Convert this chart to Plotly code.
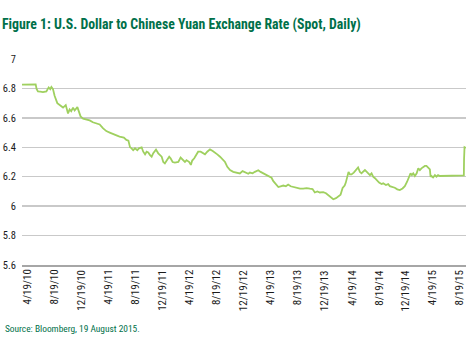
import plotly.graph_objects as go

dates = [
    "2010-04-19", "2010-05-10", "2010-06-01", "2010-06-18", "2010-06-22", "2010-06-28",
    "2010-07-08", "2010-07-20", "2010-08-04", "2010-08-14", "2010-08-21", "2010-08-26",
    "2010-09-02", "2010-09-09", "2010-09-21", "2010-10-01", "2010-10-16", "2010-10-28",
    "2010-11-07", "2010-11-14", "2010-11-21", "2010-11-29", "2010-12-06", "2010-12-18",
    "2010-12-25", "2011-01-01", "2011-01-12", "2011-01-26", "2011-02-10", "2011-02-24",
    "2011-03-11", "2011-03-26", "2011-04-09", "2011-04-24", "2011-05-09", "2011-05-23",
    "2011-06-07", "2011-06-21", "2011-07-10", "2011-07-21", "2011-07-30", "2011-08-06",
    "2011-08-13", "2011-08-20", "2011-08-28", "2011-09-07", "2011-09-14", "2011-09-26",
    "2011-10-03", "2011-10-11", "2011-10-18", "2011-10-25", "2011-11-02", "2011-11-09",
    "2011-11-16", "2011-11-28", "2011-12-08", "2011-12-15", "2011-12-23", "2011-12-30",
    "2012-01-06", "2012-01-14", "2012-01-25", "2012-01-31", "2012-02-09", "2012-02-19",
    "2012-03-05", "2012-03-15", "2012-03-24", "2012-04-03", "2012-04-10", "2012-04-22",
    "2012-04-29", "2012-05-05", "2012-05-14", "2012-05-24", "2012-05-31", "2012-06-11",
    "2012-06-20", "2012-06-30", "2012-07-10", "2012-07-22", "2012-08-03", "2012-08-13",
    "2012-08-23", "2012-09-04", "2012-09-15", "2012-09-26", "2012-10-06", "2012-10-18",
    "2012-11-01", "2012-11-16", "2012-11-30", "2012-12-12", "2012-12-22", "2013-01-06",
    "2013-01-13", "2013-01-25", "2013-02-04", "2013-02-19", "2013-03-01", "2013-03-13",
    "2013-03-27", "2013-04-08", "2013-04-18", "2013-04-26", "2013-05-07", "2013-05-18",
    "2013-05-28", "2013-06-09", "2013-06-20", "2013-06-30", "2013-07-11", "2013-07-22",
    "2013-08-06", "2013-08-21", "2013-09-04", "2013-09-19", "2013-10-03", "2013-10-15",
    "2013-10-25", "2013-11-05", "2013-11-16", "2013-12-01", "2013-12-13", "2013-12-23",
    "2014-01-02", "2014-01-14", "2014-01-26", "2014-02-05", "2014-02-15", "2014-02-24",
    "2014-03-05", "2014-03-10", "2014-03-16", "2014-03-22", "2014-03-28", "2014-04-04",
    "2014-04-14", "2014-04-26", "2014-05-03", "2014-05-11", "2014-05-18", "2014-05-25",
    "2014-06-02", "2014-06-09", "2014-06-16", "2014-06-24", "2014-07-01", "2014-07-08",
    "2014-07-16", "2014-07-23", "2014-08-03", "2014-08-14", "2014-08-21", "2014-09-02",
    "2014-09-12", "2014-09-19", "2014-10-01", "2014-10-11", "2014-10-22", "2014-11-02",
    "2014-11-14", "2014-11-24", "2014-12-04", "2014-12-13", "2014-12-19", "2014-12-25",
    "2014-12-31", "2015-01-07", "2015-01-15", "2015-01-22", "2015-01-29", "2015-02-05",
    "2015-02-13", "2015-02-20", "2015-02-27", "2015-03-07", "2015-03-14", "2015-03-17",
    "2015-03-21", "2015-03-28", "2015-04-05", "2015-04-12", "2015-04-19", "2015-04-27",
    "2015-05-11", "2015-06-10", "2015-07-09", "2015-08-07", "2015-08-10", "2015-08-11",
    "2015-08-12", "2015-08-13", "2015-08-19",
]

usd_cny = [
    6.826, 6.827, 6.828, 6.828, 6.797, 6.780,
    6.778, 6.775, 6.780, 6.807, 6.795, 6.810,
    6.795, 6.750, 6.700, 6.690, 6.670, 6.687,
    6.630, 6.657, 6.645, 6.670, 6.650, 6.673,
    6.645, 6.610, 6.595, 6.590, 6.583, 6.570,
    6.560, 6.555, 6.530, 6.510, 6.500, 6.490,
    6.480, 6.473, 6.466, 6.450, 6.445, 6.400,
    6.393, 6.380, 6.393, 6.380, 6.393, 6.400,
    6.370, 6.352, 6.370, 6.365, 6.347, 6.336,
    6.360, 6.384, 6.359, 6.347, 6.336, 6.300,
    6.290, 6.310, 6.336, 6.325, 6.300, 6.296,
    6.300, 6.330, 6.315, 6.300, 6.313, 6.300,
    6.280, 6.310, 6.325, 6.347, 6.370, 6.370,
    6.359, 6.352, 6.370, 6.386, 6.375, 6.366,
    6.352, 6.336, 6.318, 6.300, 6.267, 6.245,
    6.233, 6.228, 6.222, 6.238, 6.230, 6.220,
    6.228, 6.223, 6.233, 6.244, 6.233, 6.223,
    6.216, 6.207, 6.193, 6.170, 6.147, 6.130,
    6.135, 6.140, 6.135, 6.147, 6.135, 6.130,
    6.123, 6.119, 6.119, 6.123, 6.119, 6.116,
    6.093, 6.100, 6.093, 6.095, 6.088, 6.077,
    6.060, 6.047, 6.054, 6.065, 6.077, 6.123,
    6.140, 6.160, 6.205, 6.233, 6.216, 6.216,
    6.228, 6.247, 6.263, 6.232, 6.223, 6.234,
    6.245, 6.234, 6.223, 6.211, 6.223, 6.200,
    6.190, 6.177, 6.160, 6.150, 6.155, 6.143,
    6.150, 6.136, 6.132, 6.125, 6.114, 6.109,
    6.120, 6.136, 6.166, 6.195, 6.223, 6.211,
    6.223, 6.205, 6.223, 6.257, 6.245, 6.257,
    6.264, 6.273, 6.273, 6.264, 6.250, 6.200,
    6.205, 6.195, 6.211, 6.200, 6.211, 6.205,
    6.205, 6.205, 6.209, 6.209, 6.209, 6.320,
    6.390, 6.400, 6.395,
]

tick_dates = [
    "2010-04-19", "2010-08-19", "2010-12-19", "2011-04-19", "2011-08-19", "2011-12-19",
    "2012-04-19", "2012-08-19", "2012-12-19", "2013-04-19", "2013-08-19", "2013-12-19",
    "2014-04-19", "2014-08-19", "2014-12-19", "2015-04-19", "2015-08-19",
]
tick_labels = [
    "4/19/10", "8/19/10", "12/19/10", "4/19/11", "8/19/11", "12/19/11",
    "4/19/12", "8/19/12", "12/19/12", "4/19/13", "8/19/13", "12/19/13",
    "4/19/14", "8/19/14", "12/19/14", "4/19/15", "8/19/15",
]
y_ticks = [5.6, 5.8, 6.0, 6.2, 6.4, 6.6, 6.8, 7.0]
y_tick_labels = ["5.6", "5.8", "6", "6.2", "6.4", "6.6", "6.8", "7"]

title_text = "Figure 1: U.S. Dollar to Chinese Yuan Exchange Rate (Spot, Daily)"
source_text = "Source: Bloomberg, 19 August 2015."

FONT = "Roboto Condensed, Open Sans Condensed, DejaVu Sans Condensed, sans-serif"
GREEN = "#00704a"

fig = go.Figure()
fig.add_trace(go.Scatter(
    x=dates, y=usd_cny, mode="lines",
    line=dict(color="#9fd05f", width=1.8),
    hoverinfo="skip", showlegend=False,
))

# rotated date labels placed at the tick dates on the x axis
anns = []
n = len(tick_dates)
for i, (d, t) in enumerate(zip(tick_dates, tick_labels)):
    anns.append(dict(
        text=t, showarrow=False, textangle=-90,
        xref="x", x=d, yref="paper", y=0, yshift=-3,
        xshift=5 - 11 * i / (n - 1),
        xanchor="center", yanchor="top",
        font=dict(family=FONT, size=11, color="#1a1a1a"),
    ))
anns.append(dict(
    text=source_text, showarrow=False,
    xref="paper", yref="paper",
    x=(3 - 22) / 444, y=(265 - 328) / 205.7,
    xanchor="left", yanchor="middle",
    font=dict(family=FONT, size=9.4, color=GREEN),
))

fig.update_layout(
    width=468, height=357,
    margin=dict(l=22, r=2, t=59, b=92),
    paper_bgcolor="white", plot_bgcolor="white",
    font=dict(family=FONT, color="#1a1a1a", size=11),
    hovermode=False,
    title=dict(
        text="<b>" + title_text + "</b>",
        xref="container", yref="container",
        x=2 / 468, xanchor="left",
        y=1 - 24 / 357, yanchor="middle",
        font=dict(family=FONT, size=13.8, color=GREEN),
    ),
    xaxis=dict(
        type="date",
        range=["2010-04-19", "2015-08-19 12:00"],
        tickmode="array", tickvals=tick_dates,
        showticklabels=False, ticks="", showgrid=False,
        showline=True, linecolor="#a6a6a6", linewidth=2,
    ),
    yaxis=dict(
        range=[5.6, 7.0],
        tickmode="array", tickvals=y_ticks, ticktext=y_tick_labels,
        showgrid=True, gridcolor="#c9c9c9", gridwidth=1.3,
        zeroline=False, ticks="",
        tickfont=dict(family=FONT, size=10.5, color="#1a1a1a"),
        ticklabelstandoff=5,
    ),
    annotations=anns,
)

fig.write_html(
    "out.html",
    config={"displayModeBar": False, "staticPlot": True},
    post_script="document.body.style.margin='0';document.body.style.overflow='hidden';",
)
